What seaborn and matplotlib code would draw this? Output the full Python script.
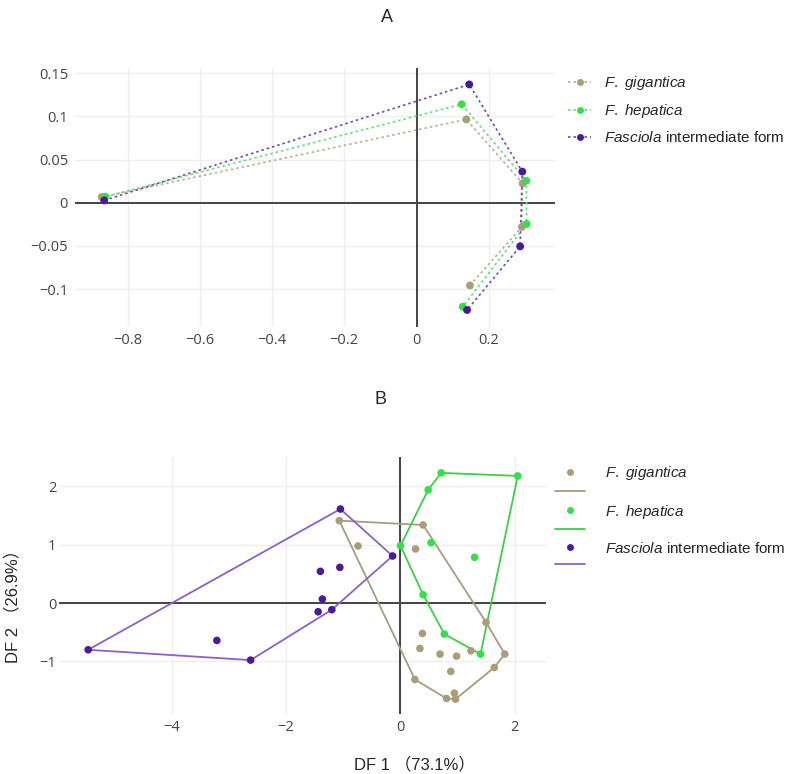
import numpy as np
import pandas as pd
import matplotlib
matplotlib.use("Agg")
import matplotlib.pyplot as plt
import seaborn as sns
from matplotlib.lines import Line2D
from matplotlib.ticker import FixedLocator, FuncFormatter

# ---- data ----
groups = ["F. gigantica", "F. hepatica", "Fasciola intermediate form"]
legend_labels = [r"$\mathit{F.\ gigantica}$", r"$\mathit{F.\ hepatica}$",
                 r"$\mathit{Fasciola}$ intermediate form"]

# panel A: loadings (5 variables per group, connected in order)
a_gig_x = [-0.872, 0.138, 0.294, 0.292, 0.148]
a_gig_y = [0.0066, 0.0965, 0.0224, -0.028, -0.0958]
a_hep_x = [-0.862, 0.125, 0.304, 0.305, 0.128]
a_hep_y = [0.007, 0.114, 0.0255, -0.0247, -0.1205]
a_int_x = [-0.865, 0.146, 0.293, 0.287, 0.140]
a_int_y = [0.0027, 0.137, 0.036, -0.0506, -0.1243]

# panel B: DF1 / DF2 scores
b_gig_x = [-1.07, 0.396, -0.742, 0.264, 1.497, 1.824, 1.64, 0.962, 0.805, 0.943,
           0.252, 0.384, 0.34, 0.692, 0.981, 0.88, 1.233]
b_gig_y = [1.411, 1.337, 0.977, 0.926, -0.331, -0.874, -1.103, -1.646, -1.634, -1.543,
           -1.309, -0.52, -0.777, -0.874, -0.909, -1.171, -0.817]
b_hep_x = [0.711, 2.05, 0.484, 0.0, 0.535, 1.296, 0.396, 0.767, 1.40]
b_hep_y = [2.229, 2.177, 1.937, 0.983, 1.034, 0.783, 0.143, -0.531, -0.874]
b_int_x = [-5.46, -2.62, -1.05, -0.138, -1.40, -1.06, -1.365, -1.44, -1.20, -3.21]
b_int_y = [-0.80, -0.977, 1.61, 0.806, 0.543, 0.611, 0.069, -0.149, -0.114, -0.64]

point_colors = ["#a99e78", "#33e04b", "#4b1a9a"]
dot_line_colors = ["#b8ae8c", "#5ee07a", "#6c4cab"]
hull_colors = ["#a89c80", "#3dcf45", "#8c62c4"]


def hull(xs, ys):
    pts = sorted(set(zip(xs, ys)))

    def cross(o, a, b):
        return (a[0] - o[0]) * (b[1] - o[1]) - (a[1] - o[1]) * (b[0] - o[0])

    lower, upper = [], []
    for p in pts:
        while len(lower) >= 2 and cross(lower[-2], lower[-1], p) <= 0:
            lower.pop()
        lower.append(p)
    for p in reversed(pts):
        while len(upper) >= 2 and cross(upper[-2], upper[-1], p) <= 0:
            upper.pop()
        upper.append(p)
    h = lower[:-1] + upper[:-1]
    h.append(h[0])
    return pd.DataFrame(h, columns=["x", "y"])


def fmt(v, pos):
    s = "%g" % round(v, 4)
    return s.replace("-", "\u2212")


sns.set_style("white")
plt.rcParams["font.family"] = ["Liberation Sans", "Noto Sans CJK SC"]
plt.rcParams["mathtext.fontset"] = "custom"
plt.rcParams["mathtext.rm"] = "Liberation Sans"
plt.rcParams["mathtext.it"] = "Liberation Sans:italic"

fig = plt.figure(figsize=(7.95, 7.74), dpi=100)
axA = fig.add_axes([0.0943, 0.5775, 0.604, 0.3346])
axB = fig.add_axes([0.0742, 0.0775, 0.613, 0.332])


def style_axis(ax, xticks, yticks, xlim, ylim, ypad):
    ax.set_xlim(*xlim)
    ax.set_ylim(*ylim)
    for s in ax.spines.values():
        s.set_visible(False)
    ax.xaxis.set_major_locator(FixedLocator(xticks))
    ax.yaxis.set_major_locator(FixedLocator(yticks))
    ax.xaxis.set_major_formatter(FuncFormatter(fmt))
    ax.yaxis.set_major_formatter(FuncFormatter(fmt))
    ax.tick_params(length=0, labelsize=10.5, labelcolor="#444444")
    ax.tick_params(axis="x", pad=4)
    ax.tick_params(axis="y", pad=ypad)
    for lab in ax.get_xticklabels() + ax.get_yticklabels():
        lab.set_family("Open Sans")
    ax.grid(True, color="#eeeeee", lw=1)
    ax.set_axisbelow(True)
    ax.axhline(0, color="#444444", lw=1.4, zorder=1)
    ax.axvline(0, color="#444444", lw=1.4, zorder=1)
    ax.set_xlabel("")
    ax.set_ylabel("")


# ---- panel A ----
a_sets = [(a_gig_x, a_gig_y), (a_hep_x, a_hep_y), (a_int_x, a_int_y)]
for i, (xs, ys) in enumerate(a_sets):
    d = pd.DataFrame({"x": xs, "y": ys})
    sns.lineplot(data=d, x="x", y="y", sort=False, estimator=None, ax=axA,
                 color=dot_line_colors[i], lw=1.2, linestyle=(0, (1.5, 1.8)), zorder=2)
    sns.scatterplot(data=d, x="x", y="y", ax=axA, color=point_colors[i], s=32,
                    edgecolor="none", zorder=3)

style_axis(axA, [-0.8, -0.6, -0.4, -0.2, 0, 0.2], [-0.1, -0.05, 0, 0.05, 0.1, 0.15],
           (-0.946, 0.384), (-0.144, 0.156), 5)

handlesA = [Line2D([], [], color=dot_line_colors[i], lw=1.2, linestyle=(0, (1.5, 1.8)),
                   marker="o", markersize=5, markerfacecolor=point_colors[i],
                   markeredgecolor="none") for i in range(3)]
axA.legend(handlesA, legend_labels, loc="upper left", bbox_to_anchor=(1.015, 1.0),
           frameon=False, fontsize=11, handlelength=1.5, handletextpad=0.8,
           labelspacing=0.65, borderaxespad=0)

# ---- panel B ----
b_sets = [(b_gig_x, b_gig_y), (b_hep_x, b_hep_y), (b_int_x, b_int_y)]
for i, (xs, ys) in enumerate(b_sets):
    d = pd.DataFrame({"x": xs, "y": ys})
    h = hull(xs, ys)
    axB.plot(h["x"], h["y"], color=hull_colors[i], lw=1.3, zorder=2)
    sns.scatterplot(data=d, x="x", y="y", ax=axB, color=point_colors[i], s=30,
                    edgecolor="none", zorder=3)

style_axis(axB, [-4, -2, 0, 2], [-1, 0, 1, 2], (-5.97, 2.55), (-1.9, 2.5), 2)

handlesB, labelsB = [], []
for i in range(3):
    handlesB.append(Line2D([], [], lw=0, marker="o", markersize=5,
                           markerfacecolor=point_colors[i], markeredgecolor="none"))
    labelsB.append(legend_labels[i])
    handlesB.append(Line2D([], [], color=hull_colors[i], lw=1.3))
    labelsB.append(" ")
axB.legend(handlesB, labelsB, loc="upper left", bbox_to_anchor=(1.005, 0.995),
           frameon=False, fontsize=11, handlelength=2.0, handletextpad=1.3,
           labelspacing=0.2, borderaxespad=0)

fig.text(380 / 795, 1 - 399 / 774, "B", ha="center", va="center", fontsize=13)
fig.text(387 / 795, 1 - 17 / 774, "A", ha="center", va="center", fontsize=13)
fig.text(414 / 795, 1 - 764 / 774, "DF 1 （73.1%）", ha="center", va="center", fontsize=12)
fig.text(12 / 795, 1 - 602 / 774, "DF 2 （26.9%）", ha="center", va="center",
         fontsize=12, rotation=90)

fig.savefig("out.png", dpi=100)
